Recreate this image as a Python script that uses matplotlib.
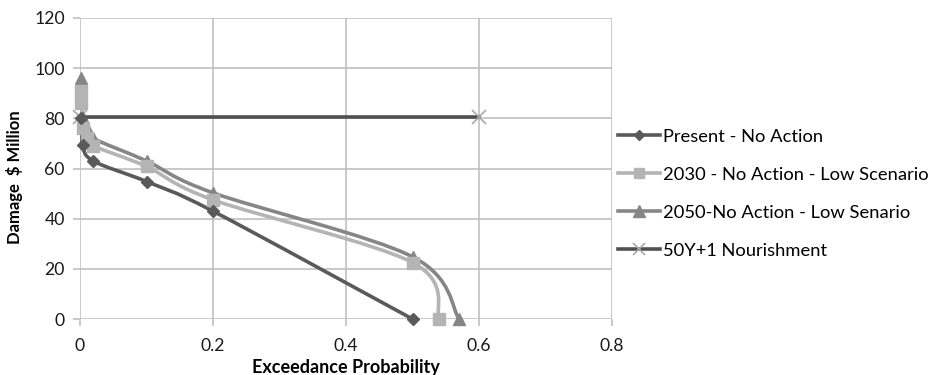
"""Damage vs exceedance probability curves (Excel-style smoothed lines)."""
import matplotlib

matplotlib.use("Agg")
import matplotlib.pyplot as plt
import numpy as np
from matplotlib.path import Path
from matplotlib.patches import PathPatch
from matplotlib.lines import Line2D

plt.rcParams["font.family"] = ["Lato", "DejaVu Sans"]

# exceedance probability / damage ($ million)
present_x = [0.001, 0.004, 0.02, 0.1, 0.2, 0.5]
present_y = [80, 69.5, 63, 54.8, 43, 0]

s2030_x = [0.001, 0.002, 0.004, 0.01, 0.02, 0.1, 0.2, 0.5, 0.54]
s2030_y = [91, 86, 76, 72, 69, 60.8, 47.5, 22.5, 0]

s2050_x = [0.001, 0.002, 0.004, 0.01, 0.02, 0.1, 0.2, 0.5, 0.57]
s2050_y = [96, 88, 80, 76, 72, 63, 50.3, 24.8, 0]

nourish_x = [0.0, 0.6]
nourish_y = [80.5, 80.5]

labels = ["Present - No Action", "2030 - No Action - Low Scenario",
          "2050-No Action - Low Senario", "50Y+1 Nourishment"]
x_ticks = [0, 0.2, 0.4, 0.6, 0.8]
y_ticks = [0, 20, 40, 60, 80, 100, 120]

C_PRESENT = "#5a5a5a"
C_2030 = "#b4b4b4"
C_2050 = "#868686"
C_NOURISH = "#505050"


def smooth_line(ax, x, y, color, lw):
    """Catmull-Rom style smoothing done in screen space, like Excel."""
    pts = ax.transData.transform(np.column_stack([x, y]))
    n = len(pts)
    verts = [pts[0]]
    codes = [Path.MOVETO]
    for i in range(n - 1):
        p0 = pts[i - 1] if i > 0 else pts[i]
        p1, p2 = pts[i], pts[i + 1]
        p3 = pts[i + 2] if i + 2 < n else pts[i + 1]
        c1 = p1 + (p2 - p0) / 6.0
        c2 = p2 - (p3 - p1) / 6.0
        verts += [c1, c2, p2]
        codes += [Path.CURVE4] * 3
    verts = ax.transData.inverted().transform(np.array(verts))
    patch = PathPatch(Path(verts, codes), facecolor="none", edgecolor=color,
                      lw=lw, capstyle="round", joinstyle="round", zorder=3)
    ax.add_patch(patch)


fig = plt.figure(figsize=(9.37, 3.75), dpi=100)
ax = fig.add_axes([80 / 937, 1 - 319 / 375, 532 / 937, 301 / 375])
ax.set_xlim(0, 0.8)
ax.set_ylim(0, 120)
ax.set_xticks(x_ticks)
ax.set_xticklabels(["0", "0.2", "0.4", "0.6", "0.8"])
ax.set_yticks(y_ticks)
ax.grid(color="#c0c0c0", lw=1.2)
ax.set_axisbelow(True)
for sp in ax.spines.values():
    sp.set_visible(False)
ax.tick_params(axis="both", which="both", length=5, width=1.2, color="#c0c0c0",
               labelsize=12.7, labelcolor="#1a1a1a")
ax.tick_params(axis="x", pad=9)
ax.tick_params(axis="y", pad=6)

ax.plot(nourish_x, nourish_y, color=C_NOURISH, lw=2.6, zorder=2, clip_on=False)
ax.plot(nourish_x, nourish_y, ls="none", marker="x", ms=10, mew=1.2,
        color="#a8a8a8", zorder=2, clip_on=False)

series = [
    (s2050_x, s2050_y, C_2050, "^", 9),
    (s2030_x, s2030_y, C_2030, "s", 8),
    (present_x, present_y, C_PRESENT, "D", 6.5),
]
for x, y, c, m, ms in series:
    smooth_line(ax, x, y, c, 2.6)
    ax.plot(x, y, ls="none", marker=m, ms=ms, color=c, zorder=4, clip_on=False)

ax.set_xlabel("Exceedance Probability", fontsize=13, fontweight="bold")
ax.xaxis.set_label_coords(0.5, -0.133)
ax.set_ylabel("Damage  $ Million", fontsize=12, fontweight="bold")
ax.yaxis.set_label_coords(-0.107, 0.472)

handles = [
    Line2D([], [], color=C_PRESENT, lw=2.6, marker="D", ms=5.5),
    Line2D([], [], color=C_2030, lw=2.6, marker="s", ms=7),
    Line2D([], [], color=C_2050, lw=2.6, marker="^", ms=8),
    Line2D([], [], color=C_NOURISH, lw=2.6, marker="x", ms=8, mew=1.2,
           markeredgecolor="#a8a8a8"),
]
fig.legend(handles, labels, loc="center left", bbox_to_anchor=(611 / 937, 0.483),
           frameon=False, fontsize=13.2, handlelength=2.3, handletextpad=0.15,
           labelspacing=1.2, borderaxespad=0)

fig.savefig("out.png", dpi=100)
